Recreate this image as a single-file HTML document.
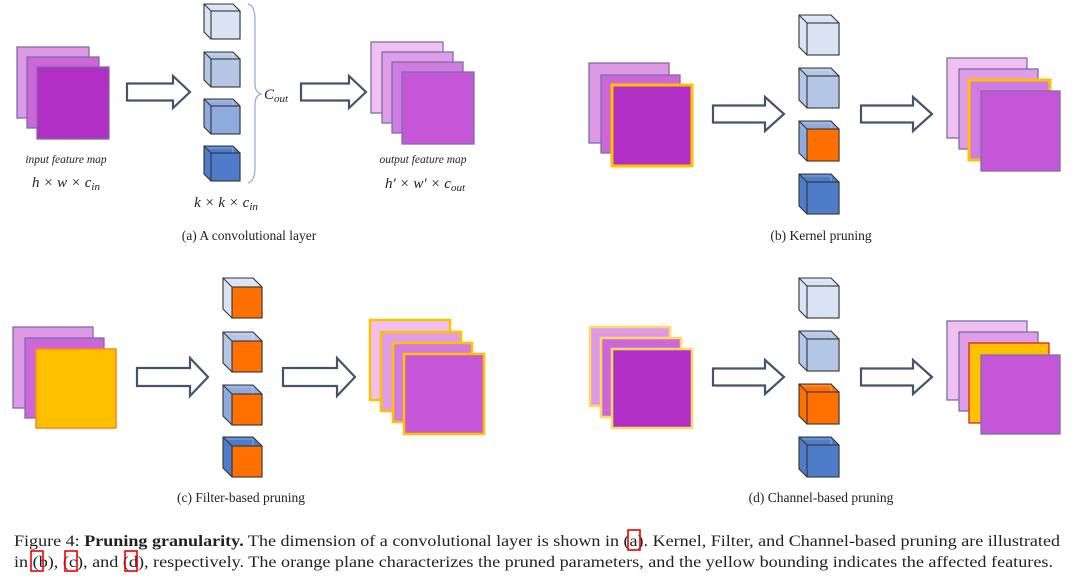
<!DOCTYPE html>
<html><head><meta charset="utf-8"><style>
html,body{margin:0;padding:0;background:#fff;}
svg{display:block;}
text{font-family:"Liberation Serif",serif;fill:#222;}
</style></head><body>
<svg id="s" width="1080" height="584" viewBox="0 0 1080 584" xmlns="http://www.w3.org/2000/svg">
<rect width="1080" height="584" fill="#fff"/>
<g id="g"></g>
<path d="M248,4 Q255,6 255,20 L255,84 Q255,92 261,94 Q255,96 255,104 L255,168 Q255,181 248,183" fill="none" stroke="#8faadc" stroke-width="1.2"/>
<text x="264" y="99" font-size="15" font-style="italic">C<tspan font-size="11" dy="3">out</tspan></text>
<text x="66" y="163" font-size="11.5" font-style="italic" text-anchor="middle" fill="#444">input feature map</text>
<text x="66" y="187" font-size="15" font-style="italic" text-anchor="middle">h × w × c<tspan font-size="11" dy="3">in</tspan></text>
<text x="226" y="207" font-size="15" font-style="italic" text-anchor="middle">k × k × c<tspan font-size="11" dy="3">in</tspan></text>
<text x="423" y="163" font-size="11.5" font-style="italic" text-anchor="middle" fill="#444">output feature map</text>
<text x="425" y="188" font-size="15" font-style="italic" text-anchor="middle">h′ × w′ × c<tspan font-size="11" dy="3">out</tspan></text>
<text x="249" y="240" font-size="13.5" text-anchor="middle">(a) A convolutional layer</text>
<text x="821" y="240" font-size="13.5" text-anchor="middle">(b) Kernel pruning</text>
<text x="241" y="502" font-size="13.5" text-anchor="middle">(c) Filter-based pruning</text>
<text x="821" y="502" font-size="13.5" text-anchor="middle">(d) Channel-based pruning</text>
<text x="14" y="546" font-size="15.5" textLength="1046" lengthAdjust="spacingAndGlyphs">Figure 4: <tspan font-weight="bold">Pruning granularity.</tspan> The dimension of a convolutional layer is shown in (a). Kernel, Filter, and Channel-based pruning are illustrated</text>
<text x="14" y="567" font-size="15.5" textLength="1039" lengthAdjust="spacingAndGlyphs">in (b), (c), and (d), respectively. The orange plane characterizes the pruned parameters, and the yellow bounding indicates the affected features.</text>
<g fill="none" stroke="#e00" stroke-width="1.6">
<rect x="628" y="530" width="12" height="20"/>
<rect x="31" y="551" width="12" height="20"/>
<rect x="65" y="551" width="12" height="20"/>
<rect x="125" y="551" width="12" height="20"/>
</g>
</svg>
<script>
var g=document.getElementById('g'),ns='http://www.w3.org/2000/svg';
function el(t,a){var e=document.createElementNS(ns,t);for(var k in a)e.setAttribute(k,a[k]);g.appendChild(e);return e;}
function sq(x1,y1,x2,y2,f,s,w){el('rect',{x:x1,y:y1,width:x2-x1,height:y2-y1,fill:f,stroke:s,'stroke-width':w||1.3});}
function arrow(x0,x1,xb,yc,h1,h2){el('polygon',{points:[x0,yc-h1,xb,yc-h1,xb,yc-h2,x1,yc,xb,yc+h2,xb,yc+h1,x0,yc+h1].join(','),fill:'#fff',stroke:'#44546a','stroke-width':2.2,'stroke-linejoin':'miter'});}
function cube(x,y,w,h,d,side,front){var s=w-d;
el('polygon',{points:[x,y,x+s,y,x+w,y+d,x+w,y+h,x+d,y+h,x,y+h-d].join(','),fill:side,stroke:'#333','stroke-width':1.1});
el('polyline',{points:[x+2,y+2,x+s,y+2,x+s,y+h-d].join(','),fill:'none',stroke:'#fff','stroke-width':0.6,opacity:0.6});
el('line',{x1:x,y1:y,x2:x+d,y2:y+d,stroke:'#333','stroke-width':1});
el('rect',{x:x+d,y:y+d,width:s,height:h-d,fill:front,stroke:'#333','stroke-width':1.1});}
var B='#7a6fa8',L1='#dd99e5',L2='#cc66d9',L3='#b22fc6',O1='#efc0f0',O2='#de9de6',O3='#d07be0',O4='#c556d8',Y='#ffc000',YB='#ffc000',OR='#ff7000';
var C=['#dae3f3','#b4c7e7','#8faadc','#4f7cc8'];
/* panel a */
sq(17,47,89,118,L1,B);sq(27,57,99,128,L2,B);sq(37,67,109,139,L3,B);
arrow(127,190,173,92,8.5,16);
[4,52,99,146].forEach(function(y,i){cube(204,y,36,35,7,C[i],C[i]);});
arrow(301,366,349,92,8.5,16);
sq(371,42,443,113,O1,B);sq(382,52,453,123,O2,B);sq(392,62,463,133,O3,B);sq(402,72,474,144,O4,B);
/* panel b */
sq(589,63,669,143,L1,B);sq(601,75,680,153,L2,B);sq(612,85,692,166,L3,YB,3);
arrow(713,784,765,114,8.5,17);
[15,68,121,174].forEach(function(y,i){cube(799,y,40,40,8,C[i],i==2?OR:C[i]);});
arrow(861,932,913,114,8.5,17);
sq(947,58,1027,138,O1,B);sq(959,69,1038,149,O2,B);sq(969,80,1050,160,O3,YB,3);sq(981,91,1060,171,O4,B);
/* panel c */
sq(13,327,93,408,L1,B);sq(25,338,104,418,L2,B);sq(36,349,116,428,Y,'#ff8c1a',1.6);
arrow(137,208,190,377,9,19);
[278,332,385,437].forEach(function(y,i){cube(223,y,39,40,9,C[i],OR);});
arrow(283,355,337,377,9,19);
sq(370,320,450,400,O1,YB,2.5);sq(381,332,461,411,O2,YB,2.5);sq(393,343,472,422,O3,YB,2.5);sq(404,354,484,434,O4,YB,2.5);
/* panel d */
sq(590,327,670,406,L1,'#ffd966',2.5);sq(601,338,681,417,L2,'#ffd966',2.5);sq(612,349,692,428,L3,'#ffd966',2.5);
arrow(713,784,765,377,8.5,17);
[278,331,384,437].forEach(function(y,i){cube(799,y,40,40,8,i==2?OR:C[i],i==2?OR:C[i]);});
arrow(861,932,913,377,8.5,17);
sq(947,321,1027,400,O1,B);sq(959,332,1038,411,O2,B);sq(969,343,1049,423,Y,'#e02020',1.3);sq(981,355,1060,434,O4,B);
</script>
</body></html>
